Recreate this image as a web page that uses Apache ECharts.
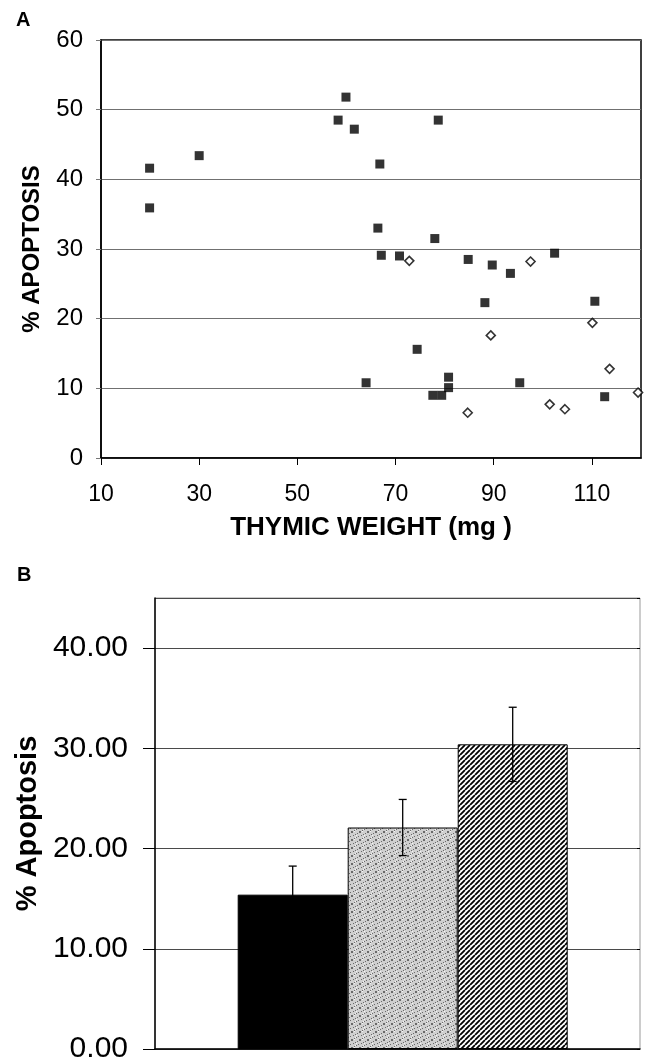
<!DOCTYPE html>
<html>
<head>
<meta charset="utf-8">
<title>Thymic weight vs apoptosis</title>
<style>
  html, body { margin: 0; padding: 0; background: #fff; }
  #chart { width: 650px; height: 1062px; }
</style>
<script src="https://cdn.jsdelivr.net/npm/echarts@6/dist/echarts.min.js"></script>
</head>
<body>
<div id="chart"></div>
<script>
'use strict';

// Panel A: [thymic weight (mg), % apoptosis]
const filledPoints = [
  [19.9, 41.6], [19.9, 35.9], [30.0, 43.4], [58.3, 48.5], [59.9, 51.8], [61.6, 47.2],
  [64.0, 10.8], [66.4, 33.0], [66.8, 42.2], [67.1, 29.1], [70.8, 29.0], [74.4, 15.6],
  [77.6, 9.0], [78.0, 31.5], [78.7, 48.5], [79.4, 9.0], [80.8, 11.6], [80.8, 10.1],
  [84.8, 28.5], [88.2, 22.3], [89.7, 27.7], [93.4, 26.5], [95.3, 10.8], [102.4, 29.4],
  [110.6, 22.5], [112.6, 8.8]
];
const openPoints = [
  [72.8, 28.3], [84.7, 6.5], [89.4, 17.6], [97.5, 28.2], [101.4, 7.7], [104.5, 7.0],
  [110.1, 19.4], [113.6, 12.8], [119.4, 9.4]
];

// Panel B: mean % apoptosis and error per group
const groups = ['Group 1', 'Group 2', 'Group 3'];
const groupMeans = [15.4, 22.1, 30.4];
const groupErrors = [2.85, 2.8, 3.7];

const FONT = '"Liberation Sans", Arial, sans-serif';

function makeHatch() {
  const s = 5;
  const c = document.createElement('canvas');
  c.width = s; c.height = s;
  const g = c.getContext('2d');
  g.fillStyle = '#fff';
  g.fillRect(0, 0, s, s);
  g.strokeStyle = '#000';
  g.lineWidth = 1.8;
  g.beginPath();
  for (let k = -1; k <= 1; k += 1) {
    g.moveTo(k * s, s);
    g.lineTo(k * s + s, 0);
  }
  g.stroke();
  return c;
}

function makeStipple() {
  const s = 8;
  const c = document.createElement('canvas');
  c.width = s; c.height = s;
  const g = c.getContext('2d');
  g.fillStyle = '#cfcfcf';
  g.fillRect(0, 0, s, s);
  for (let y = 0; y < s; y += 1) {
    for (let x = 0; x < s; x += 1) {
      if ((x * 5 + y * 3) % 7 === 0) {
        g.fillStyle = '#6a6a6a';
        g.fillRect(x, y, 1, 1);
      } else if ((x * 3 + y * 7) % 11 === 0) {
        g.fillStyle = '#f4f4f4';
        g.fillRect(x, y, 1, 1);
      }
    }
  }
  return c;
}

const barFills = [
  '#000',
  { image: makeStipple(), repeat: 'repeat' },
  { image: makeHatch(), repeat: 'repeat' }
];

const chart = echarts.init(document.getElementById('chart'), null, { renderer: 'canvas' });

chart.setOption({
  backgroundColor: '#fff',
  animation: false,
  textStyle: { fontFamily: FONT, color: '#000' },
  title: [
    { text: 'A', left: 16, top: 10, padding: 0, textStyle: { fontFamily: FONT, fontSize: 20, fontWeight: 'bold', color: '#000' } },
    { text: 'B', left: 17, top: 565, padding: 0, textStyle: { fontFamily: FONT, fontSize: 20, fontWeight: 'bold', color: '#000' } }
  ],
  grid: [
    { left: 101, top: 40, right: 9, height: 418, show: true, borderColor: '#000', borderWidth: 1.5, outerBoundsMode: 'none' },
    { left: 155, top: 598, right: 10, height: 451, show: true, borderColor: '#9a9a9a', borderWidth: 1, outerBoundsMode: 'none' },
    { left: 237.7, top: 598, width: 330, height: 451, outerBoundsMode: 'none' }
  ],
  xAxis: [
    {
      gridIndex: 0, type: 'value', min: 10, max: 120, interval: 20,
      name: 'THYMIC WEIGHT (mg )', nameLocation: 'middle', nameGap: 57,
      nameTextStyle: { fontFamily: FONT, fontSize: 26, fontWeight: 'bold', color: '#000' },
      axisLine: { lineStyle: { color: '#000', width: 1.5 } },
      axisTick: { show: true, length: 7, lineStyle: { color: '#000' } },
      axisLabel: { fontFamily: FONT, fontSize: 23, color: '#000', margin: 25, showMaxLabel: false },
      splitLine: { show: false }
    },
    {
      gridIndex: 1, type: 'value', min: 0, max: 1,
      axisLine: { lineStyle: { color: '#000', width: 1.5 } },
      axisTick: { show: false }, axisLabel: { show: false }, splitLine: { show: false }
    },
    {
      gridIndex: 2, type: 'category', data: groups,
      axisLine: { show: false }, axisTick: { show: false }, axisLabel: { show: false }, splitLine: { show: false }
    }
  ],
  yAxis: [
    {
      gridIndex: 0, type: 'value', min: 0, max: 60, interval: 10,
      name: '% APOPTOSIS', nameLocation: 'middle', nameGap: 57,
      nameTextStyle: { fontFamily: FONT, fontSize: 24, fontWeight: 'bold', color: '#000' },
      axisLine: { show: true, lineStyle: { color: '#000', width: 1.5 } },
      axisTick: { show: true, length: 5, lineStyle: { color: '#777' } },
      axisLabel: { fontFamily: FONT, fontSize: 24, color: '#000', margin: 18 },
      splitLine: { show: true, lineStyle: { color: '#707070', width: 1 } }
    },
    {
      gridIndex: 1, type: 'value', min: 0, max: 45, interval: 10,
      name: '% Apoptosis', nameLocation: 'middle', nameGap: 112,
      nameTextStyle: { fontFamily: FONT, fontSize: 29, fontWeight: 'bold', color: '#000' },
      axisLine: { show: true, lineStyle: { color: '#000', width: 1.5 } },
      axisTick: { show: true, length: 12, lineStyle: { color: '#000' } },
      axisLabel: {
        fontFamily: FONT, fontSize: 30, color: '#000', margin: 27, showMaxLabel: false,
        formatter: (v) => v.toFixed(2)
      },
      splitLine: { show: true, lineStyle: { color: '#4a4a4a', width: 1 } }
    },
    {
      gridIndex: 2, type: 'value', min: 0, max: 45,
      axisLine: { show: false }, axisTick: { show: false }, axisLabel: { show: false }, splitLine: { show: false }
    },
    {
      // small inner ticks on the right edge of panel B
      gridIndex: 1, type: 'value', min: 0, max: 45, interval: 10, position: 'right',
      axisLine: { show: false },
      axisTick: { show: true, inside: true, length: 3, lineStyle: { color: '#000' } },
      axisLabel: { show: false }, splitLine: { show: false }
    }
  ],
  series: [
    {
      name: 'filled', type: 'scatter', xAxisIndex: 0, yAxisIndex: 0,
      symbol: 'rect', symbolSize: 9, data: filledPoints,
      itemStyle: { color: '#000' }
    },
    {
      name: 'open', type: 'scatter', xAxisIndex: 0, yAxisIndex: 0,
      symbol: 'diamond', symbolSize: 9, data: openPoints,
      itemStyle: { color: '#fff', borderColor: '#000', borderWidth: 1.6 }
    },
    {
      name: 'mean', type: 'bar', xAxisIndex: 2, yAxisIndex: 2,
      barWidth: '100%', barCategoryGap: 0,
      data: groupMeans.map((v, i) => ({
        value: v,
        itemStyle: { color: barFills[i], borderColor: '#000', borderWidth: 1 }
      }))
    },
    {
      name: 'error', type: 'custom', xAxisIndex: 2, yAxisIndex: 2, z: 5,
      data: groupMeans.map((v, i) => [i, v - groupErrors[i], v + groupErrors[i]]),
      renderItem(params, api) {
        const lo = api.coord([api.value(0), api.value(1)]);
        const hi = api.coord([api.value(0), api.value(2)]);
        const cap = 4;
        const style = { stroke: '#000', lineWidth: 1.3 };
        return {
          type: 'group',
          children: [
            { type: 'line', shape: { x1: hi[0], y1: hi[1], x2: lo[0], y2: lo[1] }, style },
            { type: 'line', shape: { x1: hi[0] - cap, y1: hi[1], x2: hi[0] + cap, y2: hi[1] }, style },
            { type: 'line', shape: { x1: lo[0] - cap, y1: lo[1], x2: lo[0] + cap, y2: lo[1] }, style }
          ]
        };
      }
    }
  ]
});
</script>
</body>
</html>
